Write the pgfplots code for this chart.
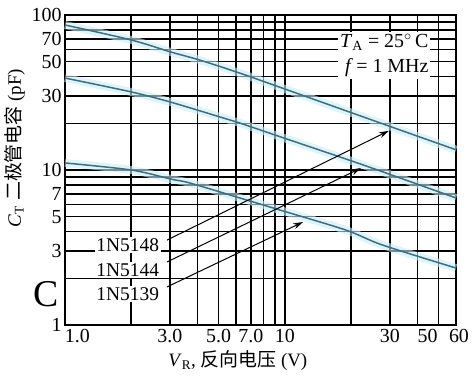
\documentclass[border=0pt]{standalone}
\usepackage{fontspec}
\setmainfont{Liberation Serif}
\newfontfamily\cjk{Noto Sans CJK SC}
\usepackage{pgfplots}
\pgfplotsset{compat=1.18}
\usetikzlibrary{arrows.meta}
\definecolor{curve}{RGB}{66,108,124}
\definecolor{glow}{RGB}{196,238,248}
\begin{document}
\begin{tikzpicture}
\begin{axis}[
  scale only axis, width=391bp, height=310bp,
  xmode=log, ymode=log, xmin=1, xmax=60, ymin=1, ymax=100,
  xtick={1,3,5,7,10,30,50,60}, xticklabels={\rlap{1.0},3.0,5.0,7.0,10,30,\llap{50\kern1pt},\rlap{\kern-7pt 60}},
  ytick={1,3,5,7,10,30,50,70,100}, yticklabels={1,3,5,7,10,30,50,70,100},
  minor xtick={2,4,6,8,9,20,40},
  minor ytick={2,4,6,8,9,20,40,60,80,90},
  grid=both,
  major grid style={black, line width=1.5pt},
  minor grid style={black, line width=1.5pt},
  axis line style={black, line width=1.8pt},
  tick style={draw=none},
  ticklabel style={font=\fontsize{20}{20}\selectfont},
  xticklabel style={yshift=-1pt},
  clip=false,
]
\coordinate (ll) at (rel axis cs:0,0);
\coordinate (ur) at (rel axis cs:1,1);
% glow
\addplot[glow, line width=8pt, opacity=0.6, smooth, forget plot] coordinates {(1,86.2) (2,69) (3.03,57.7) (4.1,51.2) (6.2,42.3) (10,33.3) (28,19.8) (60,13.5)};
\addplot[glow, line width=8pt, opacity=0.6, smooth, forget plot] coordinates {(1,39.2) (2,31.9) (3,27.5) (5.06,22) (6.1,20.3) (10,16.0) (22.6,10.8) (60,6.6)};
\addplot[glow, line width=8pt, opacity=0.6, smooth, forget plot] coordinates {(1,11.1) (2,10.0) (3.03,8.74) (3.7,8.24) (6.24,6.6) (9.48,5.52) (18.9,4.10) (27.8,3.28) (60,2.33)};
% curves
\addplot[curve, line width=1.5pt, smooth] coordinates {(1,86.2) (2,69) (3.03,57.7) (4.1,51.2) (6.2,42.3) (10,33.3) (28,19.8) (60,13.5)};
\addplot[curve, line width=1.5pt, smooth] coordinates {(1,39.2) (2,31.9) (3,27.5) (5.06,22) (6.1,20.3) (10,16.0) (22.6,10.8) (60,6.6)};
\addplot[curve, line width=1.5pt, smooth] coordinates {(1,11.1) (2,10.0) (3.03,8.74) (3.7,8.24) (6.24,6.6) (9.48,5.52) (18.9,4.10) (27.8,3.28) (60,2.33)};
% arrows
\draw[-{Stealth[length=10pt,width=6pt]}, line width=1pt] (axis cs:2.91,3.53) -- (axis cs:29.7,17.9);
\draw[-{Stealth[length=10pt,width=6pt]}, line width=1pt] (axis cs:2.91,2.55) -- (axis cs:22.2,10.3);
\draw[-{Stealth[length=10pt,width=6pt]}, line width=1pt] (axis cs:2.91,1.76) -- (axis cs:12.1,4.62);
% labels
\node[fill=white, inner sep=1.5pt, font=\fontsize{19.5}{20}\selectfont] at (axis cs:1.93,3.28) {1N5148};
\node[fill=white, inner sep=1.5pt, font=\fontsize{19.5}{20}\selectfont] at (axis cs:1.93,2.26) {1N5144};
\node[fill=white, inner sep=1.5pt, font=\fontsize{19.5}{20}\selectfont] at (axis cs:1.93,1.58) {1N5139};
\node[anchor=north east, fill=white, align=right, inner sep=2pt, font=\fontsize{20}{25}\selectfont] at (axis cs:46,78)
  {\textit{T}\textsubscript{A} = 25\textsuperscript{$\circ$}\,C\\ \textit{f}\,= 1 MHz};
\node[font=\fontsize{38}{38}\selectfont] at (axis cs:0.82,1.58) {C};
% axis labels
\node[font=\fontsize{19}{20}\selectfont] at ([yshift=-36bp]rel axis cs:0.442,0) {\textit{V}\textsubscript{R}, {\cjk 反向电压} (V)};
\node[rotate=90, font=\fontsize{19}{20}\selectfont] at ([xshift=-50bp]rel axis cs:0,0.571) {\textit{C}\textsubscript{T} {\cjk 二极管电容} (pF)};
\end{axis}
\path ([shift={(-65bp,-54bp)}]ll) rectangle ([shift={(20bp,15bp)}]ur);
\end{tikzpicture}
\end{document}
